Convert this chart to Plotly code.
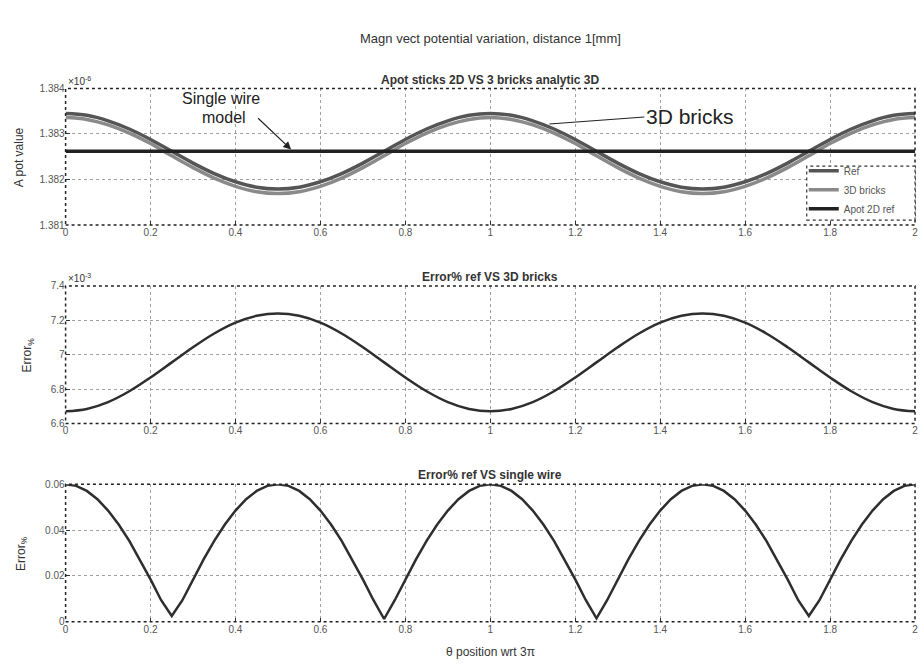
import numpy as np
import plotly.graph_objects as go

# ---- sampled data -------------------------------------------------------
# angular position (units of 3*pi)
theta = np.linspace(0, 2, 41)
theta_fine = np.linspace(0, 2, 81)

# magnetic vector potential (x1e-6)
a_ref = [1.38345, 1.38341, 1.38329, 1.38311, 1.38288, 1.38262, 1.38236, 1.38213, 1.38195, 1.38183,
         1.38179, 1.38183, 1.38195, 1.38213, 1.38236, 1.38262, 1.38288, 1.38311, 1.38329, 1.38341,
         1.38345, 1.38341, 1.38329, 1.38311, 1.38288, 1.38262, 1.38236, 1.38213, 1.38195, 1.38183,
         1.38179, 1.38183, 1.38195, 1.38213, 1.38236, 1.38262, 1.38288, 1.38311, 1.38329, 1.38341,
         1.38345]
a_bricks = [1.38336, 1.38332, 1.38320, 1.38302, 1.38279, 1.38252, 1.38226, 1.38203, 1.38185, 1.38173,
            1.38169, 1.38173, 1.38185, 1.38203, 1.38226, 1.38252, 1.38279, 1.38302, 1.38320, 1.38332,
            1.38336, 1.38332, 1.38320, 1.38302, 1.38279, 1.38252, 1.38226, 1.38203, 1.38185, 1.38173,
            1.38169, 1.38173, 1.38185, 1.38203, 1.38226, 1.38252, 1.38279, 1.38302, 1.38320, 1.38332,
            1.38336]
sw_theta = [0, 2]
a_single_wire = [1.38262, 1.38262]

# error % ref vs 3D bricks (x1e-3)
err_bricks = [6.670, 6.684, 6.724, 6.787, 6.867, 6.955, 7.043, 7.123, 7.186, 7.226,
              7.240, 7.226, 7.186, 7.123, 7.043, 6.955, 6.867, 6.787, 6.724, 6.684,
              6.670, 6.684, 6.724, 6.787, 6.867, 6.955, 7.043, 7.123, 7.186, 7.226,
              7.240, 7.226, 7.186, 7.123, 7.043, 6.955, 6.867, 6.787, 6.724, 6.684,
              6.670]

# error % ref vs single wire
err_wire = [0.0600, 0.0593, 0.0571, 0.0535, 0.0485, 0.0424, 0.0353, 0.0272, 0.0185, 0.0094,
            0.0025, 0.0094, 0.0185, 0.0272, 0.0353, 0.0424, 0.0485, 0.0535, 0.0571, 0.0593,
            0.0600, 0.0593, 0.0571, 0.0535, 0.0485, 0.0424, 0.0353, 0.0272, 0.0185, 0.0094,
            0.0012, 0.0094, 0.0185, 0.0272, 0.0353, 0.0424, 0.0485, 0.0535, 0.0571, 0.0593,
            0.0600, 0.0593, 0.0571, 0.0535, 0.0485, 0.0424, 0.0353, 0.0272, 0.0185, 0.0094,
            0.0015, 0.0094, 0.0185, 0.0272, 0.0353, 0.0424, 0.0485, 0.0535, 0.0571, 0.0593,
            0.0600, 0.0593, 0.0571, 0.0535, 0.0485, 0.0424, 0.0353, 0.0272, 0.0185, 0.0094,
            0.0025, 0.0094, 0.0185, 0.0272, 0.0353, 0.0424, 0.0485, 0.0535, 0.0571, 0.0593,
            0.0600]

x_ticks = [0, 0.2, 0.4, 0.6, 0.8, 1, 1.2, 1.4, 1.6, 1.8, 2]
x_ticklabels = ["0", "0.2", "0.4", "0.6", "0.8", "1", "1.2", "1.4", "1.6", "1.8", "2"]
y1_ticks = [1.381, 1.382, 1.383, 1.384]
y1_ticklabels = ["1.381", "1.382", "1.383", "1.384"]
y2_ticks = [6.6, 6.8, 7.0, 7.2, 7.4]
y2_ticklabels = ["6.6", "6.8", "7", "7.2", "7.4"]
y3_ticks = [0, 0.02, 0.04, 0.06]
y3_ticklabels = ["0", "0.02", "0.04", "0.06"]

# ---- figure geometry (pixels) -------------------------------------------
W, H = 922, 669
PX_L, PX_R = 63, 918
panels = [(84, 223), (285, 425), (487, 627)]  # top/bottom pixel rows


def ydom(top, bottom):
    return [1 - bottom / H, 1 - top / H]


FONT = "Liberation Sans, Arial, sans-serif"
INK = "#333333"

fig = go.Figure()

fig.add_trace(go.Scatter(x=theta, y=a_ref, name="Ref", mode="lines",
                         line=dict(color="#555555", width=3.5, shape="spline"),
                         xaxis="x", yaxis="y"))
fig.add_trace(go.Scatter(x=theta, y=a_bricks, name="3D bricks", mode="lines",
                         line=dict(color="#8a8a8a", width=3.5, shape="spline"),
                         xaxis="x", yaxis="y"))
fig.add_trace(go.Scatter(x=sw_theta, y=a_single_wire, name="Apot 2D ref", mode="lines",
                         line=dict(color="#222222", width=3.5),
                         xaxis="x", yaxis="y"))
fig.add_trace(go.Scatter(x=theta, y=err_bricks, mode="lines", showlegend=False,
                         line=dict(color="#2e2e2e", width=2.5, shape="spline"),
                         xaxis="x2", yaxis="y2"))
fig.add_trace(go.Scatter(x=theta_fine, y=err_wire, mode="lines", showlegend=False,
                         line=dict(color="#2e2e2e", width=2.5),
                         xaxis="x3", yaxis="y3"))

xdom = [PX_L / W, PX_R / W]
common = dict(showgrid=True, griddash="dot", gridcolor="#a0a0a0", gridwidth=1,
              zeroline=False, showline=False, ticks="inside", ticklen=4,
              tickcolor=INK, tickfont=dict(family=FONT, size=10, color="#555555"))

layout_axes = {}
yinfo = [(y1_ticks, y1_ticklabels, [1.381, 1.384]),
         (y2_ticks, y2_ticklabels, [6.6, 7.4]),
         (y3_ticks, y3_ticklabels, [0, 0.06])]
for i, ((top, bot), (yt, ytl, yr)) in enumerate(zip(panels, yinfo), start=1):
    sx = "" if i == 1 else str(i)
    layout_axes["xaxis" + sx] = dict(domain=xdom, anchor="y" + sx, range=[0, 2],
                                     tickvals=x_ticks, ticktext=x_ticklabels, **common)
    layout_axes["yaxis" + sx] = dict(domain=ydom(top, bot), anchor="x" + sx, range=yr,
                                     tickvals=yt, ticktext=ytl, **common)

fig.update_layout(
    width=W, height=H,
    margin=dict(l=0, r=0, t=0, b=0),
    paper_bgcolor="white", plot_bgcolor="white",
    font=dict(family=FONT, color=INK),
    showlegend=True,
    legend=dict(x=806 / W, y=1 - 153 / H, xanchor="left", yanchor="top",
                bgcolor="rgba(255,255,255,0)", borderwidth=0,
                font=dict(family=FONT, size=10, color="#555555"),
                itemwidth=30, tracegroupgap=0),
    **layout_axes,
)

# dotted frames around each panel
for i in range(1, 4):
    sx = "" if i == 1 else str(i)
    fig.add_shape(type="rect", xref=f"x{sx} domain", yref=f"y{sx} domain",
                  x0=0, x1=1, y0=0, y1=1, layer="above",
                  line=dict(color="#222222", width=1.5, dash="dot"))
# legend box: white, dotted outline, over the plot area
fig.add_shape(type="rect", xref="paper", yref="paper",
              x0=809 / W, x1=PX_R / W, y0=1 - 218 / H, y1=1 - 163 / H, layer="above",
              fillcolor="white",
              line=dict(color="#333333", width=1.2, dash="dot"))

ann = []
# titles
ann.append(dict(text="Magn vect potential variation, distance 1[mm]", x=0.532, y=1 - 33 / H,
                font=dict(size=13, color=INK)))
titles = ["Apot sticks 2D VS 3 bricks analytic 3D", "Error% ref VS 3D bricks",
          "Error% ref VS single wire"]
for (top, bot), t in zip(panels, titles):
    ann.append(dict(text=f"<b>{t}</b>", x=(PX_L + PX_R) / 2 / W, y=1 - (top - 9) / H,
                    font=dict(size=12, color=INK)))
# axis titles
ann.append(dict(text="A pot value", x=16 / W, y=1 - 154 / H, textangle=-90,
                font=dict(size=12, color=INK)))
ann.append(dict(text="Error<sub>%</sub>", x=25 / W, y=1 - 355 / H, textangle=-90,
                font=dict(size=12, color=INK)))
ann.append(dict(text="Error<sub>%</sub>", x=19 / W, y=1 - 557 / H, textangle=-90,
                font=dict(size=12, color=INK)))
ann.append(dict(text="θ position wrt 3π", x=(PX_L + PX_R) / 2 / W, y=1 - 658 / H,
                font=dict(size=12, color=INK)))
# exponent multipliers
ann.append(dict(text="×10<sup>-6</sup>", x=63 / W, y=1 - 76 / H, xanchor="left",
                font=dict(size=10, color=INK)))
ann.append(dict(text="×10<sup>-3</sup>", x=63 / W, y=1 - 277 / H, xanchor="left",
                font=dict(size=10, color=INK)))
# callout text (two lines set close together)
ann.append(dict(text="Single wire", x=219 / W, y=1 - 94 / H,
                font=dict(size=16, color="#222222")))
ann.append(dict(text="model", x=222 / W, y=1 - 114 / H,
                font=dict(size=16, color="#222222")))
for a in ann:
    a.setdefault("xref", "paper")
    a.setdefault("yref", "paper")
    a.setdefault("xanchor", "center")
    a.setdefault("yanchor", "middle")
    a.setdefault("showarrow", False)
    fig.add_annotation(**a)

fig.add_annotation(x=0.531, y=1.38266, xref="x", yref="y", text=" ", showarrow=True,
                   ax=-36, ay=-34, arrowhead=2, arrowsize=1.3, arrowwidth=1.2,
                   arrowcolor="#222222")
fig.add_annotation(x=1.139, y=1.38322, xref="x", yref="y", text="3D bricks",
                   showarrow=True, ax=95, ay=-7, xanchor="left", yanchor="middle",
                   arrowhead=0, arrowwidth=1.2, arrowcolor="#222222",
                   font=dict(size=21, color="#222222", family=FONT))

fig.write_html("out.html")
